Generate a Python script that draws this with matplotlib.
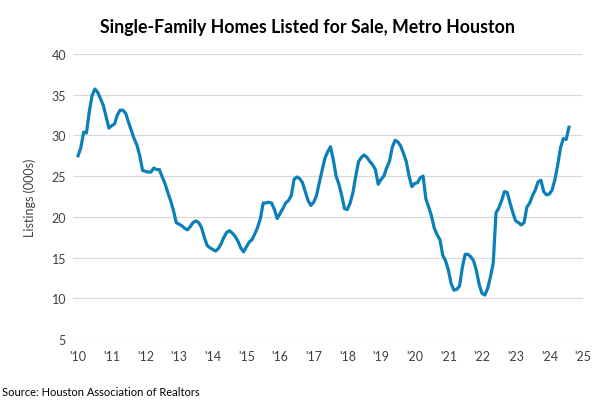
import matplotlib
matplotlib.use("Agg")
import matplotlib.pyplot as plt
import numpy as np

# monthly listings (000s), Jan 2010 - Aug 2024
listings = [
    27.5, 28.5, 30.4, 30.3, 32.9, 34.9, 35.7, 35.3, 34.5, 33.7, 32.3, 30.9,  # 2010
    31.2, 31.4, 32.5, 33.1, 33.1, 32.7, 31.6, 30.6, 29.6, 28.8, 27.5, 25.7,  # 2011
    25.6, 25.5, 25.5, 26.0, 25.8, 25.8, 24.9, 24.1, 23.0, 22.0, 20.8, 19.3,  # 2012
    19.1, 18.9, 18.6, 18.4, 18.8, 19.3, 19.5, 19.3, 18.7, 17.5, 16.5, 16.2,  # 2013
    16.0, 15.8, 16.1, 16.7, 17.5, 18.1, 18.3, 18.0, 17.6, 17.0, 16.2, 15.7,  # 2014
    16.3, 16.9, 17.2, 17.9, 18.7, 19.8, 21.7, 21.7, 21.8, 21.7, 20.9, 19.8,  # 2015
    20.4, 21.0, 21.7, 22.0, 22.6, 24.6, 24.9, 24.7, 24.2, 23.1, 22.0, 21.4,  # 2016
    21.8, 22.6, 24.2, 25.7, 27.2, 28.0, 28.6, 27.0, 25.0, 24.0, 22.6, 21.0,  # 2017
    20.9, 21.7, 23.0, 25.0, 26.8, 27.3, 27.6, 27.3, 26.8, 26.4, 25.8, 24.0,  # 2018
    24.6, 25.0, 26.0, 26.8, 28.5, 29.4, 29.2, 28.7, 27.8, 26.8, 25.0, 23.7,  # 2019
    24.1, 24.2, 24.8, 25.0, 22.2, 21.2, 20.1, 18.6, 17.8, 17.2, 15.3, 14.6,  # 2020
    13.5, 11.8, 11.0, 11.1, 11.5, 13.8, 15.4, 15.4, 15.1, 14.6, 13.4, 11.7,  # 2021
    10.6, 10.4, 11.2, 12.6, 14.3, 20.5, 21.1, 22.0, 23.1, 23.0, 21.7, 20.5,  # 2022
    19.5, 19.3, 19.0, 19.3, 21.2, 21.7, 22.6, 23.3, 24.3, 24.5, 23.1, 22.7,  # 2023
    22.8, 23.3, 24.6, 26.4, 28.5, 29.6, 29.5, 31.0,                          # 2024
]
start_year = 2010
tick_years = list(range(2010, 2026))
tick_labels = ["'" + str(y)[2:] for y in tick_years]
y_ticks = [5, 10, 15, 20, 25, 30, 35, 40]

dates = start_year + np.arange(len(listings)) / 12.0

plt.rcParams["font.family"] = ["Lato", "DejaVu Sans"]

fig = plt.figure(figsize=(6.16, 4.10), dpi=100)
ax = fig.add_axes([0.1185, 0.1707, 0.8279, 0.6952])

ax.plot(dates, listings, color="#0b7fb7", linewidth=2.3, solid_joinstyle="round")

ax.set_xlim(2009.85, 2025.0)
ax.set_ylim(5, 40)
ax.set_xticks(tick_years)
ax.set_xticklabels(tick_labels)
ax.set_yticks(y_ticks)
ax.grid(axis="y", color="#d9d9d9", linewidth=0.9)
ax.set_axisbelow(True)
for s in ax.spines.values():
    s.set_visible(False)
ax.tick_params(length=0, labelsize=9, colors="#404040", pad=8)
ax.tick_params(axis="y", pad=5)

ax.set_ylabel("Listings (000s)", fontsize=9, color="#404040", labelpad=11)
fig.text(0.5, 0.932, "Single-Family Homes Listed for Sale, Metro Houston",
         ha="center", va="center", fontsize=12.8, fontweight="bold", color="black")
fig.text(0.004, 0.042, "Source: Houston Association of Realtors",
         ha="left", va="center", fontsize=8, color="black")

fig.savefig("out.png", dpi=100)
